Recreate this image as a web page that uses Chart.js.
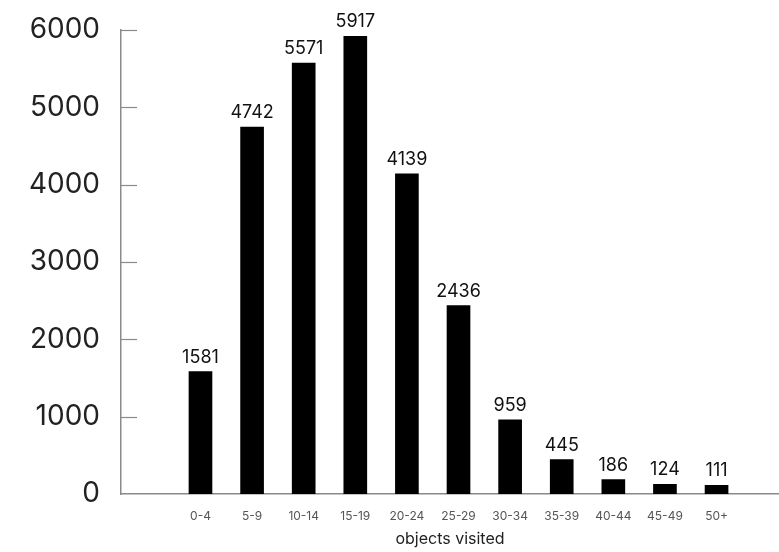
<!DOCTYPE html>
<html>
<head>
<meta charset="utf-8">
<script src="https://cdn.jsdelivr.net/npm/chart.js@4.4.1/dist/chart.umd.min.js"></script>
<style>
    html, body { margin: 0; padding: 0; background: #fff; }
    #wrap { width: 779px; height: 552px; }
</style>
</head>
<body>
<div id="wrap"><canvas id="visitsChart"></canvas></div>
<script>
// objects visited per session (binned)
var binLabels = ['0-4', '5-9', '10-14', '15-19', '20-24', '25-29', '30-34', '35-39', '40-44', '45-49', '50+'];
var visitCounts = [1581, 4742, 5571, 5917, 4139, 2436, 959, 445, 186, 124, 111];
var yTicks = [0, 1000, 2000, 3000, 4000, 5000, 6000];

var FONT = 'Inter, "Liberation Sans", sans-serif';

// small tick marks drawn inside the plot, to the right of the y axis line
var innerTicks = {
    id: 'innerTicks',
    afterDraw: function (chart) {
        var ctx = chart.ctx;
        var y = chart.scales.y;
        ctx.save();
        ctx.strokeStyle = '#8a8a8a';
        ctx.lineWidth = 1.2;
        y.ticks.forEach(function (t) {
            if (t.value === 0) return;
            var py = Math.round(y.getPixelForValue(t.value)) + 0.5;
            ctx.beginPath();
            ctx.moveTo(y.right, py);
            ctx.lineTo(y.right + 16, py);
            ctx.stroke();
        });
        ctx.restore();
    }
};

// value above each bar
var barValues = {
    id: 'barValues',
    afterDatasetsDraw: function (chart) {
        var ctx = chart.ctx;
        var meta = chart.getDatasetMeta(0);
        ctx.save();
        ctx.fillStyle = '#111';
        ctx.font = '18px ' + FONT;
        ctx.textAlign = 'center';
        ctx.textBaseline = 'alphabetic';
        meta.data.forEach(function (bar, i) {
            ctx.fillText(String(visitCounts[i]), bar.x, bar.y - 9);
        });
        ctx.restore();
    }
};

var points = visitCounts.map(function (v, i) { return { x: i, y: v }; });

new Chart(document.getElementById('visitsChart'), {
    type: 'bar',
    data: {
        datasets: [{
            data: points,
            backgroundColor: '#000',
            borderWidth: 0,
            barThickness: 23
        }]
    },
    options: {
        responsive: true,
        maintainAspectRatio: false,
        animation: false,
        layout: { padding: { top: 27, right: 0, bottom: 0, left: 0 } },
        plugins: {
            legend: { display: false },
            tooltip: { enabled: false }
        },
        scales: {
            x: {
                type: 'linear',
                min: -1.54,
                max: 11.21,
                offset: false,
                grid: { display: false },
                border: { display: true, color: '#8a8a8a', width: 1.5 },
                ticks: {
                    stepSize: 1,
                    includeBounds: false,
                    autoSkip: false,
                    maxRotation: 0,
                    padding: 7,
                    color: '#555',
                    font: { family: FONT, size: 12 },
                    callback: function (val) {
                        return Number.isInteger(val) && binLabels[val] !== undefined ? binLabels[val] : '';
                    }
                },
                title: {
                    display: true,
                    text: 'objects visited',
                    color: '#222',
                    font: { family: FONT, size: 16 },
                    padding: { top: 0, bottom: 3 }
                },
                afterFit: function (scale) { scale.height = 58; }
            },
            y: {
                min: yTicks[0],
                max: yTicks[yTicks.length - 1],
                grid: { display: false },
                border: { display: true, color: '#8a8a8a', width: 1.5 },
                afterBuildTicks: function (scale) {
                    scale.ticks = yTicks.map(function (v) { return { value: v }; });
                },
                ticks: {
                    padding: 13,
                    color: '#222',
                    font: { family: FONT, size: 28 },
                    callback: function (val) { return String(val); }
                },
                afterFit: function (scale) { scale.width = 121; }
            }
        }
    },
    plugins: [innerTicks, barValues]
});
</script>
</body>
</html>
